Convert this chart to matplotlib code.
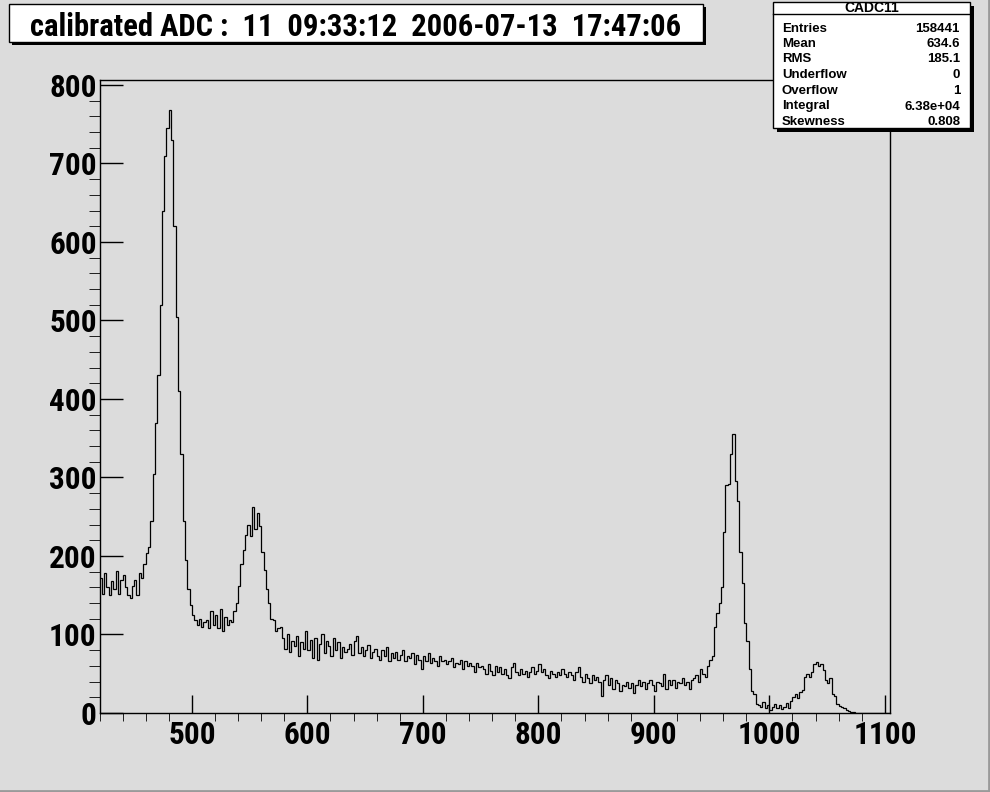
"""ROOT-style calibrated ADC spectrum (CADC11)."""

import matplotlib
matplotlib.use("Agg")
import matplotlib.pyplot as plt
import matplotlib.patches as mpatches
import matplotlib.ticker as mticker
from matplotlib import font_manager
import numpy as np

W, H = 990, 792
BG = "#dcdcdc"
FONT = "Liberation Sans"

# histogram binning (2 ADC units per bin, first edge at 420)
X_START = 420
BIN_W = 2

# bin contents, region by region
left_band = [172, 152, 178, 160, 150, 168, 158, 181, 152, 170, 176, 160, 150, 147, 162,
             170, 150, 178, 172, 190, 204, 212]
peak_480 = [245, 305, 370, 430, 520, 640, 710, 745, 768, 730, 620, 505, 410, 330, 245,
            195, 158, 138, 125]
valley = [118, 112, 120, 110, 116, 118, 108, 130, 112, 125, 108, 132, 104, 122, 112,
          118, 116, 130, 140]
peak_555 = [162, 190, 208, 227, 240, 225, 262, 235, 255, 238, 205, 182, 158, 140, 120,
            118, 104, 108, 110]
continuum = [95, 82, 100, 78, 92, 85, 98, 72, 90, 82, 104, 80, 93, 70,
             95, 68, 88, 100, 76, 92, 85, 73, 95, 80, 90, 70, 84, 78,
             82, 88, 74, 92, 98, 76, 84, 72, 80, 86, 70, 78, 82, 72,
             68, 80, 72, 84, 66, 76, 70, 78, 68, 74, 80, 66, 72, 70, 76,
             62, 74, 68, 56, 72, 66, 76, 64, 70, 66, 60, 72, 66, 68, 62,
             66, 70, 58, 64, 62, 68, 56, 66, 60, 64, 60, 52, 64, 58,
             60, 56, 50, 62, 54, 48, 60, 52, 58, 50,
             56, 48, 44, 58, 64, 52, 48, 56, 50, 54, 46, 52, 58, 50, 54,
             62, 52, 56, 48, 44, 54, 50, 46, 52, 48, 56, 50, 46, 52,
             48, 42, 52, 58, 46, 40, 50, 44, 38, 48, 42, 46, 40, 22, 42,
             48, 36, 44, 30, 42, 38, 28, 36, 34, 40, 32, 38, 26, 36,
             42, 34, 40, 30, 38, 42, 36, 28, 40, 38, 34, 50, 30, 42,
             36, 42, 32, 40, 38, 44, 36, 40, 30, 42, 44, 48, 40, 56, 50, 46, 60]
peak_970 = [68, 72, 110, 128, 140, 160, 230, 290, 292, 330, 355, 295, 270, 205, 165,
            115, 92, 56, 28, 24, 12, 10]
low_gap = [8, 14, 6, 10, 4, 8, 12, 6, 10, 5, 8, 13, 6, 15]
peak_1040 = [20, 24, 19, 27, 29, 46, 50, 46, 52, 62, 65, 60, 62, 55, 42, 38, 45, 24, 22,
             12, 9, 8, 6, 4, 3, 1, 1]
tail = [0] * 15

stats_names = ["Entries", "Mean", "RMS", "Underflow", "Overflow", "Integral", "Skewness"]
stats_values = ["158441", "634.6", "185.1", "0", "1", "6.38e+04", "0.808"]

TITLE = "calibrated ADC :  11  09:33:12  2006-07-13  17:47:06"
HIST_NAME = "CADC11"


def condensed_bold():
    # ROOT's Helvetica here looks condensed: look for any narrow bold sans face
    cands = []
    for f in font_manager.fontManager.ttflist:
        narrow = ("Narrow" in f.name or "Condensed" in f.name
                  or f.stretch in ("condensed", "semi-condensed", "extra-condensed"))
        wt = f.weight if isinstance(f.weight, int) else 700 if f.weight == "bold" else 400
        if narrow and wt >= 600 and f.style == "normal" and "Mono" not in f.name:
            rank = 0 if "Liberation" in f.name else 1 if "Roboto" in f.name else 2
            cands.append((rank, f.name, f.fname))
    if cands:
        cands.sort()
        return font_manager.FontProperties(fname=cands[0][2])
    return font_manager.FontProperties(family=FONT, weight="bold")


def fit_size(fig, txt, target_px, start):
    # scale a text's font size so that its drawn width matches the reference
    r = fig.canvas.get_renderer()
    w = txt.get_window_extent(r).width
    txt.set_fontsize(start * target_px / w)


def fx(px):
    return px / W


def fy(py):
    return 1 - py / H


def box(fig, x0, y0, x1, y1, shadow=4):
    # white pave with black frame and a dark drop shadow, ROOT TPave look
    fig.add_artist(mpatches.Rectangle((fx(x0 + shadow), fy(y1 + shadow)),
                                      (x1 - x0) / W, (y1 - y0) / H,
                                      transform=fig.transFigure, facecolor="black",
                                      edgecolor="none", zorder=5))
    fig.add_artist(mpatches.Rectangle((fx(x0), fy(y1)), (x1 - x0) / W, (y1 - y0) / H,
                                      transform=fig.transFigure, facecolor="white",
                                      edgecolor="black", linewidth=1.0, zorder=6))


counts = np.array(left_band + peak_480 + valley + peak_555 + continuum
                  + peak_970 + low_gap + peak_1040 + tail, dtype=float)
edges = X_START + BIN_W * np.arange(len(counts) + 1)

narrow_fp = condensed_bold()

fig = plt.figure(figsize=(W / 100, H / 100), dpi=100, facecolor=BG)
ax = fig.add_axes([fx(99.5), fy(713), (889.5 - 99.5) / W, (713 - 79.5) / H])
ax.set_facecolor(BG)

ax.stairs(counts, edges, color="black", linewidth=0.9, baseline=None)
ax.set_xlim(edges[0], edges[-1])
ax.set_ylim(0, 807)

for s in ax.spines.values():
    s.set_color("black")
    s.set_linewidth(1.0)

ax.xaxis.set_major_locator(mticker.MultipleLocator(100))
ax.xaxis.set_minor_locator(mticker.MultipleLocator(20))
ax.yaxis.set_major_locator(mticker.MultipleLocator(100))
ax.yaxis.set_minor_locator(mticker.MultipleLocator(20))
ax.tick_params(direction="in", top=False, right=False, width=1.0, color="black")
ax.tick_params(axis="y", which="major", length=16.5, pad=2)
ax.tick_params(axis="y", which="minor", length=8)
ax.tick_params(axis="x", which="major", length=13, pad=5)
ax.tick_params(axis="x", which="minor", length=6)

# size the tick labels from the width of "1100" (about 63 px in the reference)
probe = fig.text(0, 0, "1100", fontproperties=narrow_fp, fontsize=20)
fit_size(fig, probe, 63, 20)
tick_size = probe.get_fontsize()
probe.remove()
for lab in ax.get_xticklabels() + ax.get_yticklabels():
    lab.set_fontproperties(narrow_fp)
    lab.set_fontsize(tick_size)

# title pave
box(fig, 9, 4, 703, 42, shadow=3)
title = fig.text(fx(356), fy(26.5), TITLE, ha="center", va="center",
                 fontproperties=narrow_fp, zorder=7)
title.set_fontsize(20)
fit_size(fig, title, 652, 20)

# stats pave
box(fig, 773, 2, 970, 128, shadow=4)
fig.add_artist(plt.Line2D([fx(773), fx(970)], [fy(13.5), fy(13.5)],
                          transform=fig.transFigure, color="black", linewidth=1.0, zorder=7))
fig.text(fx(871.5), fy(7.5), HIST_NAME, ha="center", va="center", fontsize=10,
         fontweight="bold", family=FONT, zorder=7)
row_y = [28.5, 44, 59.5, 75.5, 91.5, 106.5, 122]
for name, val, yy in zip(stats_names, stats_values, row_y):
    fig.text(fx(782), fy(yy), name, ha="left", va="center", fontsize=9.5,
             fontweight="bold", family=FONT, zorder=7)
    fig.text(fx(960), fy(yy), val, ha="right", va="center", fontsize=9.5,
             fontweight="bold", family=FONT, zorder=7)

# canvas bevel on the right and bottom edges
fig.add_artist(plt.Line2D([fx(988.5), fx(988.5)], [fy(0), fy(792)],
                          transform=fig.transFigure, color="#9a9a9a", linewidth=2))
fig.add_artist(plt.Line2D([fx(0), fx(990)], [fy(790.5), fy(790.5)],
                          transform=fig.transFigure, color="#9a9a9a", linewidth=2))

fig.savefig("out.png", dpi=100, facecolor=BG)
plt.close(fig)
